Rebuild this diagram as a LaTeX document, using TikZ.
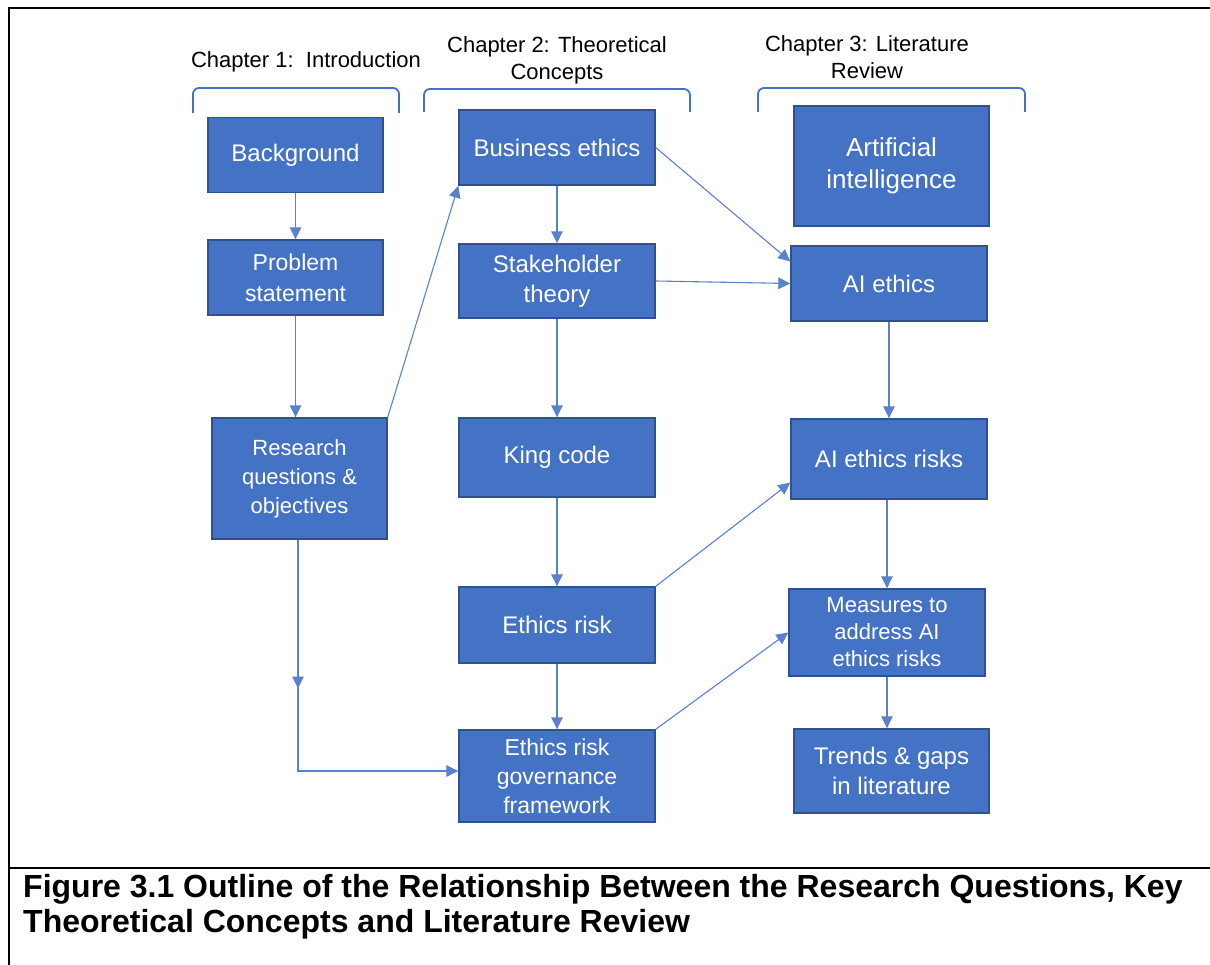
\documentclass[tikz,border=0pt]{standalone}
\usepackage{fontspec}
\setmainfont{Liberation Sans}
\usetikzlibrary{arrows.meta,calc,decorations.markings}
\definecolor{boxfill}{HTML}{4472C4}
\definecolor{boxedge}{HTML}{2F528F}
\definecolor{linkblue}{HTML}{5B80CC}
\begin{document}
\begin{tikzpicture}[x=1pt,y=-1pt,
  box/.style={draw=boxedge, line width=1.4pt, fill=boxfill, text=white, align=center,
              inner sep=0pt, font=\fontsize{24}{30}\selectfont},
  tip/.style={-{Triangle[length=12pt,width=11.5pt]}},
  link/.style={draw=linkblue, line width=1.1pt, tip},
  head/.style={align=center, font=\fontsize{22}{27}\selectfont},
  brace/.style={draw=boxfill, line width=1.8pt, rounded corners=6pt},
  rule/.style={line width=2pt}]
\useasboundingbox (0,0) rectangle (1210,965);

% frame and caption separator
\draw[rule] (1210,8) -- (9,8) -- (9,965);
\draw[rule] (9,868) -- (1210,868);

% chapter headings with their brackets
\node[head] (h1) at (306,62) {Chapter 1:\ \ Introduction};
\node[head] (h2) at (557,60) {Chapter 2: Theoretical\\Concepts};
\node[head] (h3) at (867,57) {Chapter 3: Literature\\Review};
\draw[brace] (193,113) -- (193,88) -- (399,88) -- (399,113);
\draw[brace] (424,112) -- (424,89) -- (690,89) -- (690,112);
\draw[brace] (758,112) -- (758,88) -- (1025,88) -- (1025,112);

% chapter 1
\node[box, minimum width=175pt, minimum height=75pt] (bg) at (295.5,155) {Background};
\node[box, minimum width=175pt, minimum height=75pt, font=\fontsize{23}{31}\selectfont] (ps) at (295.5,277.5) {Problem\\statement};
\node[box, minimum width=175pt, minimum height=121pt, font=\fontsize{22}{29}\selectfont] (rq) at (299.5,478.5) {Research\\questions \&\\objectives};

% chapter 2
\node[box, minimum width=196pt, minimum height=75pt] (be) at (557,147.5) {Business ethics};
\node[box, minimum width=196pt, minimum height=74pt, font=\fontsize{24}{30}\selectfont] (st) at (557,281) {Stakeholder\\theory};
\node[box, minimum width=196pt, minimum height=79pt] (kc) at (557,457.5) {King code};
\node[box, minimum width=196pt, minimum height=76pt] (er) at (557,625) {Ethics risk};
\node[box, minimum width=196pt, minimum height=92pt, font=\fontsize{23}{29}\selectfont] (gf) at (557,776) {Ethics risk\\governance\\framework};

% chapter 3
\node[box, minimum width=195pt, minimum height=120pt, font=\fontsize{26}{32}\selectfont] (ai) at (891.5,166) {Artificial\\intelligence};
\node[box, minimum width=196pt, minimum height=75pt] (ae) at (889,283.5) {AI ethics};
\node[box, minimum width=196pt, minimum height=80pt] (aer) at (889,459) {AI ethics risks};
\node[box, minimum width=196pt, minimum height=87pt, font=\fontsize{22}{27}\selectfont] (ms) at (887,632.5) {Measures to\\address AI\\ethics risks};
\node[box, minimum width=195pt, minimum height=84pt] (tg) at (891.5,771) {Trends \& gaps\\in literature};

% connectors
\draw[link] (bg) -- (ps);
\draw[link] (ps.south -| bg.south) -- (rq.north -| bg.south);
\draw[link] (rq.north east) -- (be.south west);
\coordinate (turn) at ($(rq.south |- gf.west)+(-1.5,-5)$);
\draw[draw=linkblue, line width=1.1pt, tip,
      postaction={decorate},
      decoration={markings, mark=at position 0.38 with {\arrow{Triangle[length=12pt,width=11.5pt]}}}]
  ($(rq.south)+(-1.5,0)$) -- (turn) -- ($(gf.west)+(0,-5)$);

\draw[link] (be) -- (st);
\draw[link] (st) -- (kc);
\draw[link] (kc) -- (er);
\draw[link] (er) -- (gf);
\draw[link] (be.east) -- ($(ae.north west)!0.21!(ae.south west)$);
\draw[link] (st.east) -- (ae.west);
\draw[link] (er.north east) -- ($(aer.north west)!0.79!(aer.south west)$);
\draw[link] (gf.north east) -- (ms.west);

\draw[link] (ae) -- (aer);
\draw[link] (aer.south -| ms.north) -- (ms.north);
\draw[link] (ms.south) -- (tg.north -| ms.south);

% caption
\node[anchor=north west, align=left, inner sep=0pt,
      font=\bfseries\fontsize{32}{35}\selectfont] (cap) at (23,874)
  {Figure 3.1 Outline of the Relationship Between the Research Questions, Key\\
   Theoretical Concepts and Literature Review};
\end{tikzpicture}
\end{document}
